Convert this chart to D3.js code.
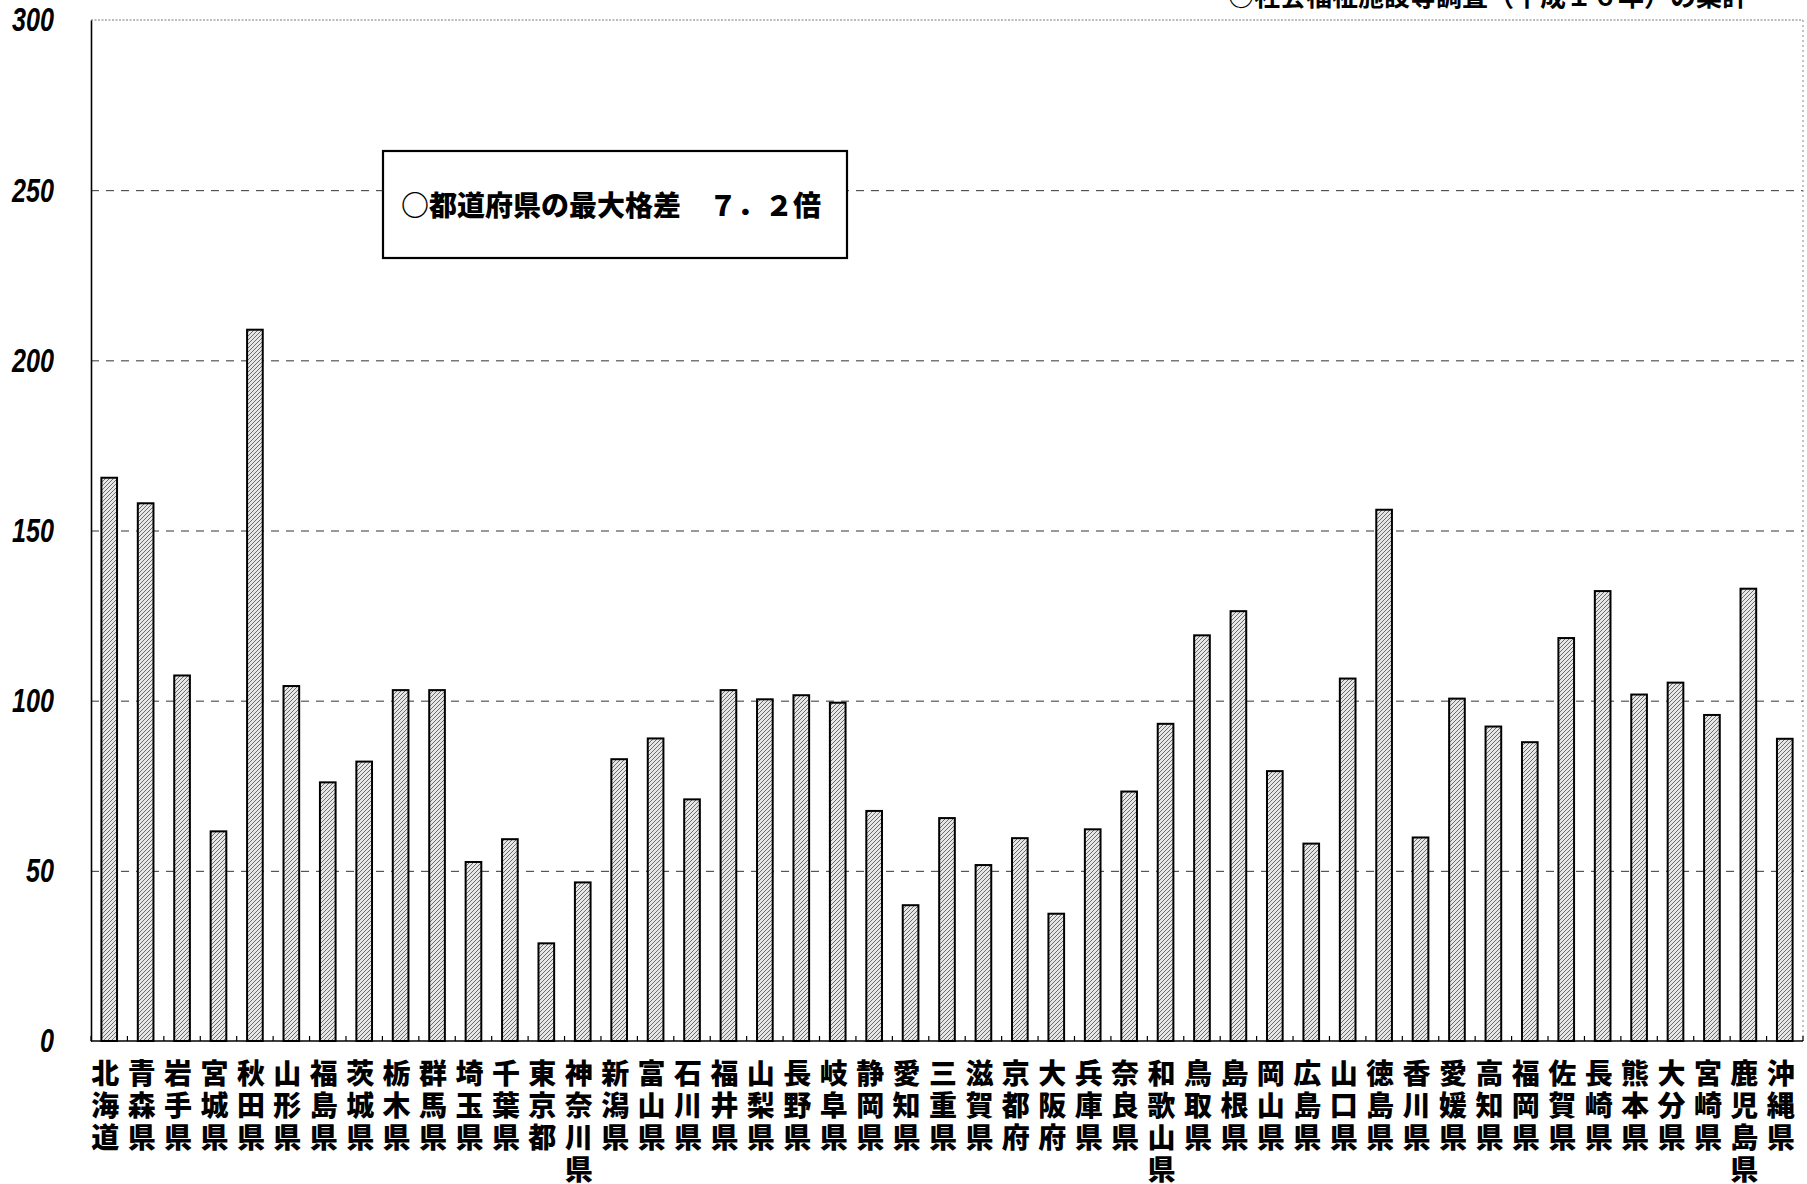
<!DOCTYPE html>
<html lang="ja">
<head>
<meta charset="utf-8">
<script src="https://d3js.org/d3.v7.min.js"></script>
<style>
  body { margin: 0; background: #fff; }
  svg { display: block; }
</style>
</head>
<body>
<script>
// prefectures, left to right
const prefectures = [
  "北海道","青森県","岩手県","宮城県","秋田県","山形県","福島県","茨城県","栃木県","群馬県",
  "埼玉県","千葉県","東京都","神奈川県","新潟県","富山県","石川県","福井県","山梨県","長野県",
  "岐阜県","静岡県","愛知県","三重県","滋賀県","京都府","大阪府","兵庫県","奈良県","和歌山県",
  "鳥取県","島根県","岡山県","広島県","山口県","徳島県","香川県","愛媛県","高知県","福岡県",
  "佐賀県","長崎県","熊本県","大分県","宮崎県","鹿児島県","沖縄県"
];

// values
const values = [
  165.5, 158.0, 107.4, 61.6, 209.0, 104.3, 76.0, 82.1, 103.1, 103.1,
  52.6, 59.3, 28.7, 46.6, 82.8, 88.9, 71.0, 103.1, 100.4, 101.6,
  99.4, 67.6, 39.9, 65.5, 51.7, 59.6, 37.4, 62.2, 73.3, 93.2,
  119.2, 126.3, 79.3, 58.0, 106.5, 156.1, 59.8, 100.6, 92.4, 87.8,
  118.4, 132.2, 101.8, 105.3, 95.8, 132.9, 88.8
];

const yTicks = [0, 50, 100, 150, 200, 250, 300];
const noteText = "○都道府県の最大格差　７．２倍";
const sourceText = "○社会福祉施設等調査（平成１６年）の集計";

const W = 1807, H = 1184;
const plotL = 91, plotR = 1803, plotT = 20, plotB = 1041;

const svg = d3.select("body").append("svg")
  .attr("width", W)
  .attr("height", H);

// hatch for the bars
const defs = svg.append("defs");
const pat = defs.append("pattern")
  .attr("id", "hatch")
  .attr("patternUnits", "userSpaceOnUse")
  .attr("width", 4)
  .attr("height", 4);
pat.append("rect").attr("width", 4).attr("height", 4).attr("fill", "#e6e6e6");
pat.append("path")
  .attr("d", "M-1,1 l2,-2 M0,4 l4,-4 M3,5 l2,-2")
  .attr("stroke", "#606060")
  .attr("stroke-width", 0.9);

// scales
const x = d3.scaleBand()
  .domain(prefectures)
  .range([plotL, plotR])
  .paddingInner(0.57)
  .paddingOuter(0.285);

const y = d3.scaleLinear()
  .domain([0, 300])
  .range([plotB, plotT]);

// grid lines
svg.append("g")
  .attr("transform", "translate(" + plotL + ",0)")
  .call(d3.axisLeft(y).tickValues(yTicks.filter(d => d > 0 && d < 300)).tickSize(-(plotR - plotL)).tickFormat(""))
  .call(g => g.select(".domain").remove())
  .call(g => g.selectAll("line")
    .attr("stroke", "#333")
    .attr("stroke-width", 1)
    .attr("stroke-dasharray", "8,7"));

// top and right frame (dotted)
svg.append("line")
  .attr("x1", plotL).attr("x2", plotR)
  .attr("y1", y(300)).attr("y2", y(300))
  .attr("stroke", "#777").attr("stroke-width", 1).attr("stroke-dasharray", "2,1.5");
svg.append("line")
  .attr("x1", plotR).attr("x2", plotR)
  .attr("y1", y(300)).attr("y2", y(0))
  .attr("stroke", "#888").attr("stroke-width", 1).attr("stroke-dasharray", "2,3");

// bars
svg.append("g").selectAll("rect")
  .data(prefectures)
  .enter()
  .append("rect")
    .attr("x", d => x(d))
    .attr("y", (d, i) => y(values[i]))
    .attr("width", x.bandwidth())
    .attr("height", (d, i) => y(0) - y(values[i]))
    .attr("fill", "url(#hatch)")
    .attr("stroke", "#000")
    .attr("stroke-width", 2);

// y axis
svg.append("g")
  .attr("transform", "translate(" + plotL + ",0)")
  .call(d3.axisLeft(y).tickValues(yTicks).tickSize(0).tickPadding(37))
  .call(g => g.select(".domain").attr("stroke", "#000").attr("stroke-width", 1.6))
  .call(g => g.selectAll("text")
    .attr("fill", "#000")
    .attr("font-family", "'Liberation Sans', Arial, sans-serif")
    .attr("font-weight", "bold")
    .attr("font-style", "italic")
    .attr("font-size", 34)
    .attr("textLength", d => String(d).length * 14)
    .attr("lengthAdjust", "spacingAndGlyphs"));

// x axis line with small ticks at category boundaries
const gap = x.step() - x.bandwidth();
const edges = prefectures.map(d => x(d) - gap / 2).concat([plotR]);
const xg = svg.append("g");
xg.append("line")
  .attr("x1", plotL).attr("x2", plotR)
  .attr("y1", y(0)).attr("y2", y(0))
  .attr("stroke", "#000").attr("stroke-width", 1.6);
xg.selectAll(".tk")
  .data(edges)
  .enter()
  .append("line")
    .attr("x1", d => d).attr("x2", d => d)
    .attr("y1", y(0)).attr("y2", y(0) - 5)
    .attr("stroke", "#000").attr("stroke-width", 1.2);

// vertical category labels, characters stacked one per row
const lab = svg.append("g")
  .attr("font-family", "'Noto Sans CJK JP', sans-serif")
  .attr("font-weight", 900)
  .attr("font-size", 28)
  .attr("fill", "#000")
  .attr("text-anchor", "middle");
prefectures.forEach(function(p) {
  const cx = x(p) + x.bandwidth() / 2 - 4;
  p.split("").forEach(function(ch, j) {
    lab.append("text")
      .attr("x", cx)
      .attr("y", 1071.5 + j * 32.3)
      .attr("dominant-baseline", "central")
      .text(ch);
  });
});

// note box
svg.append("rect")
  .attr("x", 383).attr("y", 151)
  .attr("width", 464).attr("height", 107)
  .attr("fill", "#fff")
  .attr("stroke", "#000")
  .attr("stroke-width", 2.2);
svg.append("text")
  .attr("x", 401).attr("y", 204)
  .attr("dominant-baseline", "central")
  .attr("font-family", "'Noto Sans CJK JP', sans-serif")
  .attr("font-weight", 900)
  .attr("font-size", 28)
  .attr("fill", "#000")
  .text(noteText);

// source note, cut off at the top edge as in the original
svg.append("text")
  .attr("x", 1748).attr("y", 6)
  .attr("text-anchor", "end")
  .attr("font-family", "'Noto Sans CJK JP', sans-serif")
  .attr("font-weight", 700)
  .attr("font-size", 26)
  .attr("fill", "#000")
  .text(sourceText);
</script>
</body>
</html>
